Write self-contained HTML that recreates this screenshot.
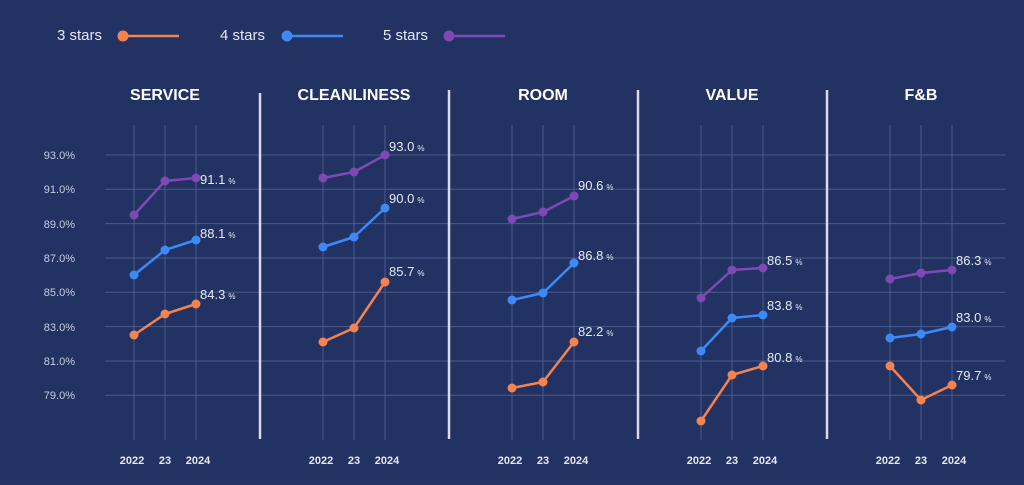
<!DOCTYPE html>
<html><head><meta charset="utf-8"><style>
html,body{margin:0;padding:0;background:#213263}
svg{display:block}
text{font-family:"Liberation Sans",sans-serif}
</style></head><body>
<svg width="1024" height="485" viewBox="0 0 1024 485" xmlns="http://www.w3.org/2000/svg">
<rect x="0" y="0" width="1024" height="485" fill="#213263"/>
<g font-size="15" fill="#e6e9f2">
<text x="57" y="40">3 stars</text>
<line x1="123" y1="36" x2="179" y2="36" stroke="#f5834f" stroke-width="2.5"/><circle cx="123" cy="36" r="5.5" fill="#f5834f"/>
<text x="220" y="40">4 stars</text>
<line x1="287" y1="36" x2="343" y2="36" stroke="#3d8af7" stroke-width="2.5"/><circle cx="287" cy="36" r="5.5" fill="#3d8af7"/>
<text x="383" y="40">5 stars</text>
<line x1="449" y1="36" x2="505" y2="36" stroke="#7f49b5" stroke-width="2.5"/><circle cx="449" cy="36" r="5.5" fill="#7f49b5"/>
</g>
<g stroke="#4a5a8a" stroke-width="1">
<line x1="105" x2="1005" y1="155" y2="155"/>
<line x1="105" x2="1005" y1="189.3" y2="189.3"/>
<line x1="105" x2="1005" y1="223.6" y2="223.6"/>
<line x1="105" x2="1005" y1="258" y2="258"/>
<line x1="105" x2="1005" y1="292.3" y2="292.3"/>
<line x1="105" x2="1005" y1="326.6" y2="326.6"/>
<line x1="105" x2="1005" y1="361" y2="361"/>
<line x1="105" x2="1005" y1="395.3" y2="395.3"/>
<line x1="134" x2="134" y1="125" y2="440"/><line x1="165" x2="165" y1="125" y2="440"/><line x1="196" x2="196" y1="125" y2="440"/>
<line x1="323" x2="323" y1="125" y2="440"/><line x1="354" x2="354" y1="125" y2="440"/><line x1="385" x2="385" y1="125" y2="440"/>
<line x1="512" x2="512" y1="125" y2="440"/><line x1="543" x2="543" y1="125" y2="440"/><line x1="574" x2="574" y1="125" y2="440"/>
<line x1="701" x2="701" y1="125" y2="440"/><line x1="732" x2="732" y1="125" y2="440"/><line x1="763" x2="763" y1="125" y2="440"/>
<line x1="890" x2="890" y1="125" y2="440"/><line x1="921" x2="921" y1="125" y2="440"/><line x1="952" x2="952" y1="125" y2="440"/>
</g>
<g font-size="11" fill="#c8cde0" text-anchor="end">
<text x="75" y="159">93.0%</text><text x="75" y="193">91.0%</text><text x="75" y="228">89.0%</text><text x="75" y="262">87.0%</text><text x="75" y="296">85.0%</text><text x="75" y="331">83.0%</text><text x="75" y="365">81.0%</text><text x="75" y="399">79.0%</text>
</g>
<g stroke="#d8dcea" stroke-width="2.5">
<line x1="260" x2="260" y1="93" y2="439"/>
<line x1="449" x2="449" y1="90" y2="439"/>
<line x1="638" x2="638" y1="90" y2="439"/>
<line x1="827" x2="827" y1="90" y2="439"/>
</g>
<g font-size="16" font-weight="bold" fill="#fff" text-anchor="middle">
<text x="165" y="100">SERVICE</text><text x="354" y="100">CLEANLINESS</text><text x="543" y="100">ROOM</text><text x="732" y="100">VALUE</text><text x="921" y="100">F&amp;B</text>
</g>
<g font-size="11" font-weight="bold" fill="#e6e9f2" text-anchor="middle">
<text x="132" y="464">2022</text><text x="165" y="464">23</text><text x="198" y="464">2024</text>
<text x="321" y="464">2022</text><text x="354" y="464">23</text><text x="387" y="464">2024</text>
<text x="510" y="464">2022</text><text x="543" y="464">23</text><text x="576" y="464">2024</text>
<text x="699" y="464">2022</text><text x="732" y="464">23</text><text x="765" y="464">2024</text>
<text x="888" y="464">2022</text><text x="921" y="464">23</text><text x="954" y="464">2024</text>
</g>
<g fill="none" stroke-width="2.5" stroke-linejoin="round">
<polyline stroke="#7f49b5" points="134,215 165,181 196,178"/>
<polyline stroke="#3d8af7" points="134,275 165,250 196,240"/>
<polyline stroke="#f5834f" points="134,335 165,314 196,304"/>
<polyline stroke="#7f49b5" points="323,178 354,172 385,155"/>
<polyline stroke="#3d8af7" points="323,247 354,237 385,208"/>
<polyline stroke="#f5834f" points="323,342 354,328 385,282"/>
<polyline stroke="#7f49b5" points="512,219 543,212 574,196"/>
<polyline stroke="#3d8af7" points="512,300 543,293 574,263"/>
<polyline stroke="#f5834f" points="512,388 543,382 574,342"/>
<polyline stroke="#7f49b5" points="701,298 732,270 763,268"/>
<polyline stroke="#3d8af7" points="701,351 732,318 763,315"/>
<polyline stroke="#f5834f" points="701,421 732,375 763,366"/>
<polyline stroke="#7f49b5" points="890,279 921,273 952,270"/>
<polyline stroke="#3d8af7" points="890,338 921,334 952,327"/>
<polyline stroke="#f5834f" points="890,366 921,400 952,385"/>
</g>
<g fill="#7f49b5">
<circle cx="134" cy="215" r="4.5"/><circle cx="165" cy="181" r="4.5"/><circle cx="196" cy="178" r="4.5"/>
<circle cx="323" cy="178" r="4.5"/><circle cx="354" cy="172" r="4.5"/><circle cx="385" cy="155" r="4.5"/>
<circle cx="512" cy="219" r="4.5"/><circle cx="543" cy="212" r="4.5"/><circle cx="574" cy="196" r="4.5"/>
<circle cx="701" cy="298" r="4.5"/><circle cx="732" cy="270" r="4.5"/><circle cx="763" cy="268" r="4.5"/>
<circle cx="890" cy="279" r="4.5"/><circle cx="921" cy="273" r="4.5"/><circle cx="952" cy="270" r="4.5"/>
</g>
<g fill="#3d8af7">
<circle cx="134" cy="275" r="4.5"/><circle cx="165" cy="250" r="4.5"/><circle cx="196" cy="240" r="4.5"/>
<circle cx="323" cy="247" r="4.5"/><circle cx="354" cy="237" r="4.5"/><circle cx="385" cy="208" r="4.5"/>
<circle cx="512" cy="300" r="4.5"/><circle cx="543" cy="293" r="4.5"/><circle cx="574" cy="263" r="4.5"/>
<circle cx="701" cy="351" r="4.5"/><circle cx="732" cy="318" r="4.5"/><circle cx="763" cy="315" r="4.5"/>
<circle cx="890" cy="338" r="4.5"/><circle cx="921" cy="334" r="4.5"/><circle cx="952" cy="327" r="4.5"/>
</g>
<g fill="#f5834f">
<circle cx="134" cy="335" r="4.5"/><circle cx="165" cy="314" r="4.5"/><circle cx="196" cy="304" r="4.5"/>
<circle cx="323" cy="342" r="4.5"/><circle cx="354" cy="328" r="4.5"/><circle cx="385" cy="282" r="4.5"/>
<circle cx="512" cy="388" r="4.5"/><circle cx="543" cy="382" r="4.5"/><circle cx="574" cy="342" r="4.5"/>
<circle cx="701" cy="421" r="4.5"/><circle cx="732" cy="375" r="4.5"/><circle cx="763" cy="366" r="4.5"/>
<circle cx="890" cy="366" r="4.5"/><circle cx="921" cy="400" r="4.5"/><circle cx="952" cy="385" r="4.5"/>
</g>
<g font-size="13" fill="#e6e9f2">
<text x="200" y="184">91.1<tspan font-size="8" dx="3">%</tspan></text>
<text x="200" y="238">88.1<tspan font-size="8" dx="3">%</tspan></text>
<text x="200" y="299">84.3<tspan font-size="8" dx="3">%</tspan></text>
<text x="389" y="151">93.0<tspan font-size="8" dx="3">%</tspan></text>
<text x="389" y="203">90.0<tspan font-size="8" dx="3">%</tspan></text>
<text x="389" y="276">85.7<tspan font-size="8" dx="3">%</tspan></text>
<text x="578" y="190">90.6<tspan font-size="8" dx="3">%</tspan></text>
<text x="578" y="260">86.8<tspan font-size="8" dx="3">%</tspan></text>
<text x="578" y="336">82.2<tspan font-size="8" dx="3">%</tspan></text>
<text x="767" y="265">86.5<tspan font-size="8" dx="3">%</tspan></text>
<text x="767" y="310">83.8<tspan font-size="8" dx="3">%</tspan></text>
<text x="767" y="362">80.8<tspan font-size="8" dx="3">%</tspan></text>
<text x="956" y="265">86.3<tspan font-size="8" dx="3">%</tspan></text>
<text x="956" y="322">83.0<tspan font-size="8" dx="3">%</tspan></text>
<text x="956" y="380">79.7<tspan font-size="8" dx="3">%</tspan></text>
</g>
</svg>
</body></html>
